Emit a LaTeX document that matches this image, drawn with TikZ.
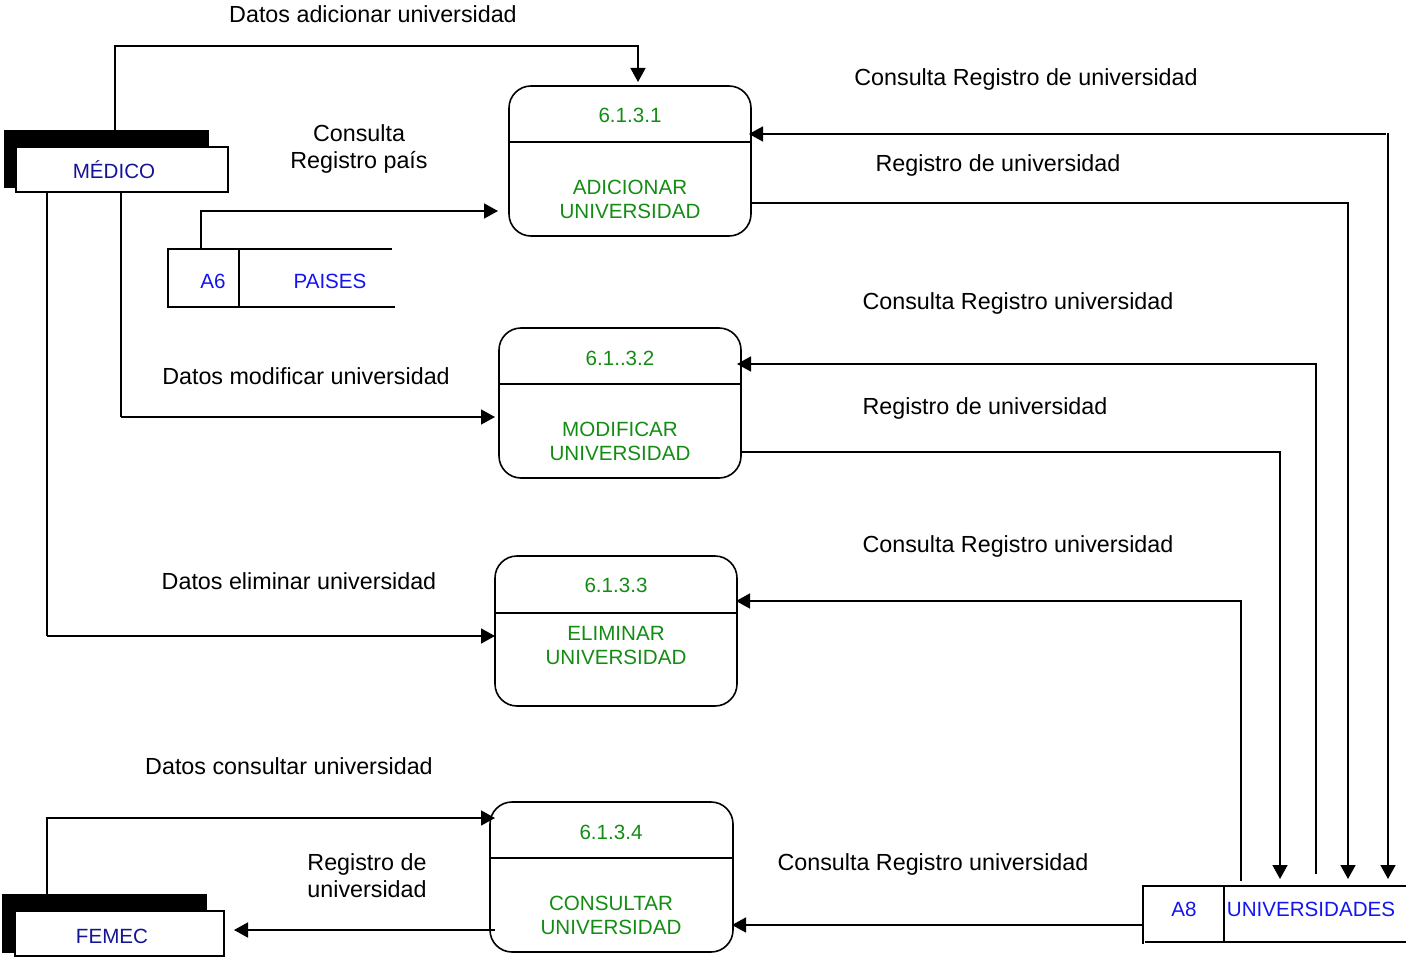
\documentclass[tikz,border=0pt]{standalone}
\usepackage{fontspec}
\setmainfont{Liberation Sans}
\usetikzlibrary{arrows.meta}
\definecolor{pgreen}{RGB}{20,140,20}
\definecolor{sblue}{RGB}{20,20,240}
\definecolor{enavy}{RGB}{20,20,150}
\tikzset{
 proc/.style={draw, line width=1.6pt, rounded corners=22pt, minimum width=242pt, minimum height=150pt, inner sep=0pt},
 flow/.style={line width=1.6pt, -{Triangle[length=14pt,width=15pt]}},
 ln/.style={line width=1.6pt},
 lbl/.style={font=\fontsize{23.3}{28}\selectfont, inner sep=0pt, text height=16.5pt, text depth=0pt},
 ptx/.style={font=\fontsize{20.6}{24}\selectfont, text=pgreen, inner sep=0pt, text height=14.8pt, text depth=0pt},
 stx/.style={font=\fontsize{20.6}{24}\selectfont, text=sblue, inner sep=0pt, text height=14.8pt, text depth=0pt},
 etx/.style={font=\fontsize{20.6}{24}\selectfont, text=enavy, inner sep=0pt, text height=14.8pt, text depth=0pt},
 ent/.style={draw, fill=white, line width=1.6pt, inner sep=0pt},
}
\begin{document}
\begin{tikzpicture}[x=1pt,y=-1pt]
\useasboundingbox (0,0) rectangle (1406,958);

% processes
\node[proc] (p1) at (630,161) {};
\draw[ln] (p1.west |- 0,142) -- (p1.east |- 0,142);
\node[ptx] (p1n) at (630,115) {6.1.3.1};
\node[ptx] (p1a) at (630,187) {ADICIONAR};
\node[ptx] (p1b) at (630,211) {UNIVERSIDAD};

\node[proc] (p2) at (620,403) {};
\draw[ln] (p2.west |- 0,384) -- (p2.east |- 0,384);
\node[ptx] (p2n) at (620,358) {6.1..3.2};
\node[ptx] (p2a) at (620,429) {MODIFICAR};
\node[ptx] (p2b) at (620,453) {UNIVERSIDAD};

\node[proc] (p3) at (616,631) {};
\draw[ln] (p3.west |- 0,613) -- (p3.east |- 0,613);
\node[ptx] (p3n) at (616,585) {6.1.3.3};
\node[ptx] (p3a) at (616,633) {ELIMINAR};
\node[ptx] (p3b) at (616,657) {UNIVERSIDAD};

\node[proc, minimum width=243pt] (p4) at (611.5,877) {};
\draw[ln] (p4.west |- 0,858) -- (p4.east |- 0,858);
\node[ptx] (p4n) at (611,832) {6.1.3.4};
\node[ptx] (p4a) at (611,903) {CONSULTAR};
\node[ptx] (p4b) at (611,927) {UNIVERSIDAD};

% external entities
\fill (4,130) rectangle (209,188);
\node[ent, minimum width=212pt, minimum height=45pt] (med) at (122,169.5) {};
\node[etx] (medt) at (114,171) {MÉDICO};

\fill (2,894) rectangle (207,953);
\node[ent, minimum width=209pt, minimum height=45pt] (fem) at (119.5,933.5) {};
\node[etx] (femt) at (112,936) {FEMEC};

% data stores
\coordinate (a6tl) at (168,249);
\coordinate (a6bl) at (168,307);
\draw[ln] (392,249) -- (a6tl) -- (a6bl) -- (395,307);
\draw[ln] (239,249) -- (239,307);
\node[stx] (a6) at (213,281) {A6};
\node[stx] (pai) at (330,281) {PAISES};

\coordinate (a8tl) at (1143,886);
\draw[ln] (1406,886) -- (a8tl) -- (1143,944);
\draw[ln] (1145,942) -- (1406,942);
\draw[ln] (1224,886) -- (1224,942);
\node[stx] (a8) at (1184,909) {A8};
\node[stx] (uni) at (1311,909) {UNIVERSIDADES};

% flows
\draw[flow] (115,130) |- (638,46) -- (638,82);
\draw[flow] (201,249) |- (498,211);
\draw[ln] (121,192) -- (121,417);
\draw[flow] (121,417) -- (495,417);
\draw[ln] (47,192) -- (47,636);
\draw[flow] (47,636) -- (495,636);
\draw[flow] (47,894) |- (495,818);
\draw[flow] (495,930) -- (234,930);

\draw[flow] (1386,134) -- (749,134);
\draw[flow] (1388,133) -- (1388,879);
\draw[flow] (751,203) -| (1348,879);
\draw[flow] (1316,874) |- (737,364);
\draw[flow] (741,452) -| (1280,879);
\draw[flow] (1241,881) |- (736,601);
\draw[flow] (1143,925) -- (732,925);

% labels
\node[lbl] at (373,14) {Datos adicionar universidad};
\node[lbl] at (359,133) {Consulta};
\node[lbl] at (359,160) {Registro país};
\node[lbl] at (1026,77) {Consulta Registro de universidad};
\node[lbl] at (998,163) {Registro de universidad};
\node[lbl] at (1018,301) {Consulta Registro universidad};
\node[lbl] at (306,376) {Datos modificar universidad};
\node[lbl] at (985,406) {Registro de universidad};
\node[lbl] at (1018,544) {Consulta Registro universidad};
\node[lbl] at (299,581) {Datos eliminar universidad};
\node[lbl] at (289,766) {Datos consultar universidad};
\node[lbl] at (367,862) {Registro de};
\node[lbl] at (367,889) {universidad};
\node[lbl] at (933,862) {Consulta Registro universidad};
\end{tikzpicture}
\end{document}
